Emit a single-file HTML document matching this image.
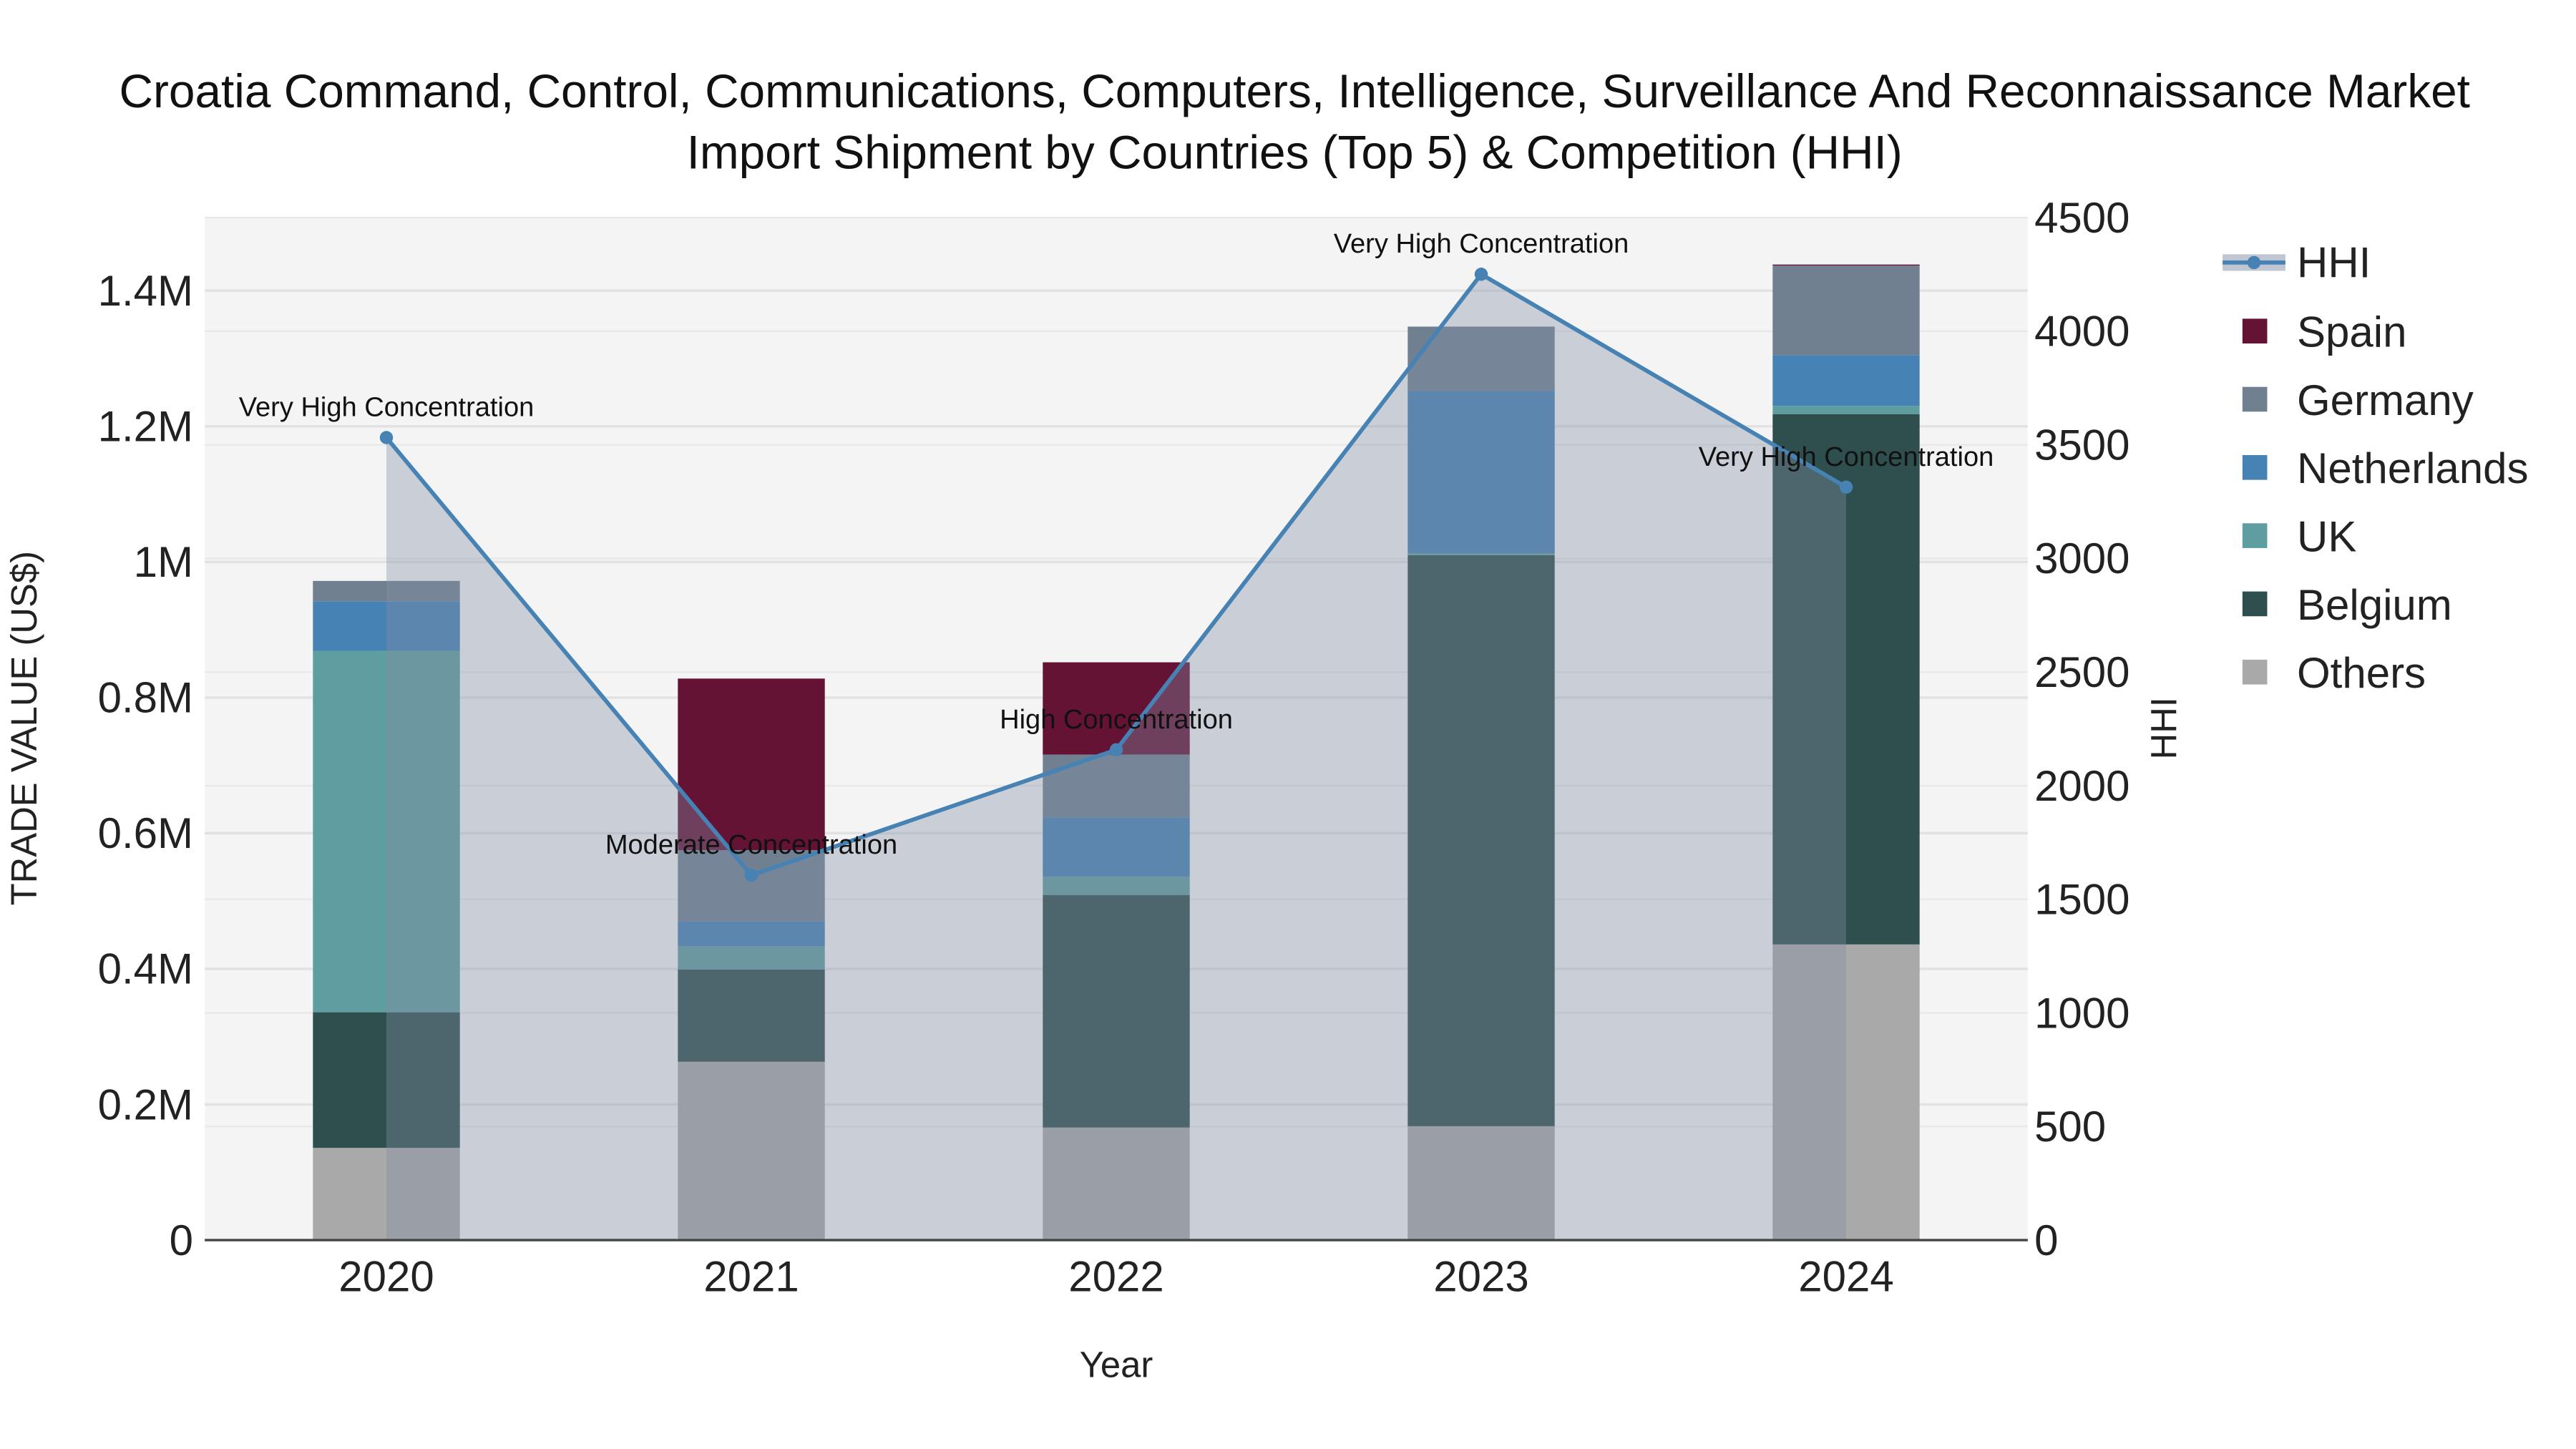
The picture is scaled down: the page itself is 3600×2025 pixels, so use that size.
<!DOCTYPE html>
<html><head><meta charset="utf-8"><style>html,body{margin:0;padding:0;background:#fff}svg{display:block}text{font-family:"Liberation Sans",sans-serif}</style></head>
<body>
<svg id="chart" width="3600" height="2025" viewBox="0 0 1560 877.5" xmlns="http://www.w3.org/2000/svg">
<rect width="1560" height="877.5" fill="#fff"/>
<g font-size="28.5" fill="#111" text-anchor="middle">
<text x="784" y="65">Croatia Command, Control, Communications, Computers, Intelligence, Surveillance And Reconnaissance Market</text>
<text x="784" y="102">Import Shipment by Countries (Top 5) &amp; Competition (HHI)</text>
</g>
<rect x="124" y="132" width="1104" height="619" fill="#f4f4f4"/>
<g id="grid"></g><g id="bars"></g><g id="hhi"></g><g id="axes"></g>
<text x="676" y="834" font-size="22" text-anchor="middle" fill="#222">Year</text>
<text transform="translate(22,441) rotate(-90)" font-size="22" text-anchor="middle" fill="#222">TRADE VALUE (US$)</text>
<text transform="translate(1318,441) rotate(-90)" font-size="22" text-anchor="middle" fill="#222">HHI</text>
<g id="legend"></g>
</svg>
<script>
const years=["2020","2021","2022","2023","2024"];
const others=[136000,263000,166000,168000,436000];
const belgium=[200000,136000,343000,842000,782000];
const uk=[533000,34000,27000,3000,12000];
const netherlands=[73000,37000,87000,239000,75000];
const germany=[30000,105000,93000,95000,132000];
const spain=[0,253000,136000,0,1500];
const hhi=[3532,1606,2158,4251,3314];
const hhiLabels=["Very High Concentration","Moderate Concentration","High Concentration","Very High Concentration","Very High Concentration"];
const yTicks=[0,200000,400000,600000,800000,1000000,1200000,1400000];
const yTickLabels=["0","0.2M","0.4M","0.6M","0.8M","1M","1.2M","1.4M"];
const y2Ticks=[0,500,1000,1500,2000,2500,3000,3500,4000,4500];

const NS="http://www.w3.org/2000/svg";
const x0=124,x1=1228,yb=751;
const xs=i=>234+i*221;
const ys=v=>yb-v/200000*82.14;
const ys2=v=>yb-v/500*68.8;
function mk(p,tag,at){const e=document.createElementNS(NS,tag);for(const k in at)e.setAttribute(k,at[k]);p.appendChild(e);return e;}
const grid=document.getElementById('grid'),bars=document.getElementById('bars'),hg=document.getElementById('hhi'),axes=document.getElementById('axes'),leg=document.getElementById('legend');
yTicks.forEach((v,i)=>{
 if(v>0){const l=mk(grid,'line',{x1:x0,x2:x1,y1:ys(v),y2:ys(v),stroke:'#e2e2e2','stroke-width':1.5});
 
 }
 const t=mk(axes,'text',{x:117,y:ys(v)+9,'font-size':26,'text-anchor':'end',fill:'#222'});t.textContent=yTickLabels[i];
 
 
});
y2Ticks.forEach(v=>{
 if(v>0){const l=mk(grid,'line',{x1:x0,x2:x1,y1:ys2(v),y2:ys2(v),stroke:'#e8e8e8','stroke-width':1});
 
 }
 const t=mk(axes,'text',{x:1232,y:ys2(v)+9,'font-size':26,fill:'#222'});t.textContent=v;
 
 
});
const series=[["Others",others,"#a9a9a9"],["Belgium",belgium,"#2f4f4f"],["UK",uk,"#5f9ea0"],["Netherlands",netherlands,"#4682b4"],["Germany",germany,"#708090"],["Spain",spain,"#641335"]];
years.forEach((y,i)=>{
 let base=0;
 series.forEach(s=>{const v=s[1][i];if(v>0){const r=mk(bars,'rect',{x:xs(i)-44.5,width:89,y:ys(base+v),height:ys(base)-ys(base+v),fill:s[2]});
  
  }
  base+=v;});
 const t=mk(axes,'text',{x:xs(i),y:782,'font-size':26,'text-anchor':'middle',fill:'#222'});t.textContent=y;
 
 
});
const axl=mk(axes,'line',{x1:x0,x2:x1,y1:yb,y2:yb,stroke:'#444','stroke-width':1.5});


let pts=hhi.map((v,i)=>xs(i)+','+ys2(v)).join(' ');
const area=mk(hg,'polygon',{points:xs(0)+','+yb+' '+pts+' '+xs(hhi.length-1)+','+yb,fill:'rgba(129,142,164,0.37)'});


const line=mk(hg,'polyline',{points:pts,fill:'none',stroke:'#4682b4','stroke-width':2.5});


hhi.forEach((v,i)=>{
 const c=mk(hg,'circle',{cx:xs(i),cy:ys2(v),r:4,fill:'#4682b4'});
 
 
 const t=mk(hg,'text',{x:xs(i),y:ys2(v)-13,'font-size':16.5,'text-anchor':'middle',fill:'#111'});t.textContent=hhiLabels[i];
 
 
});
const li=mk(leg,'g',{});


mk(li,'rect',{x:1346,y:154,width:38,height:10,fill:'rgba(129,142,164,0.5)'});
mk(li,'line',{x1:1346,x2:1384,y1:159,y2:159,stroke:'#4682b4','stroke-width':2.5});
mk(li,'circle',{cx:1365,cy:159,r:4,fill:'#4682b4'});
const lt=mk(li,'text',{x:1391,y:168,'font-size':26,fill:'#222'});lt.textContent='HHI';
["Spain","Germany","Netherlands","UK","Belgium","Others"].forEach((n,k)=>{
 const s=series.find(q=>q[0]===n);const y=201+k*41.3;
 const g=mk(leg,'g',{});
 
 
 mk(g,'rect',{x:1358,y:y-8,width:15,height:15,fill:s[2]});
 const t=mk(g,'text',{x:1391,y:y+9,'font-size':26,fill:'#222'});t.textContent=n;
});
</script>
</body></html>
